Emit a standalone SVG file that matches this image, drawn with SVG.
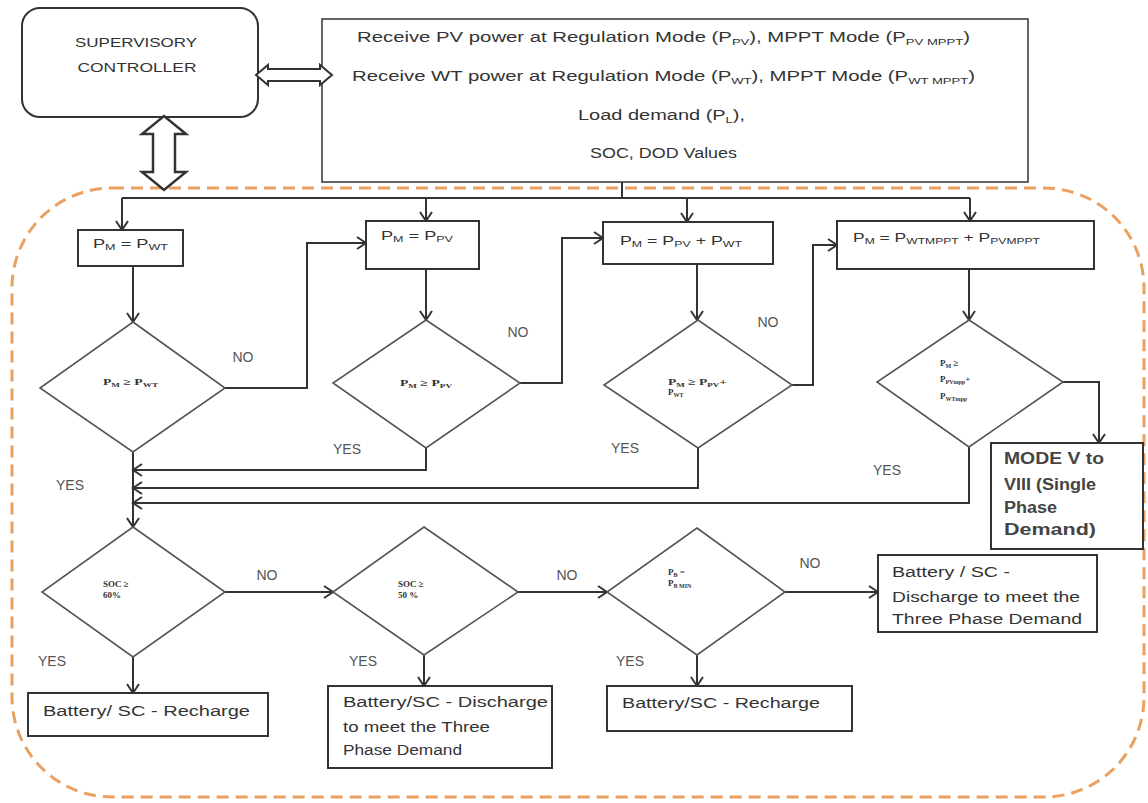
<svg xmlns="http://www.w3.org/2000/svg" width="1148" height="803" viewBox="0 0 1148 803">
<style>
.t{font-family:"Liberation Sans",Arial,sans-serif;fill:#333}
.lbl{font-family:"Liberation Sans",Arial,sans-serif;fill:#555;font-size:14px}
.sm{font-family:"Liberation Serif","Times New Roman",serif;fill:#333;font-size:9px;font-weight:bold}
.box{fill:#fff;stroke:#333;stroke-width:2}
.dia{fill:#fff;stroke:#555;stroke-width:1.6}
.ln{fill:none;stroke:#333;stroke-width:2}
.ar{fill:none;stroke:#333;stroke-width:2;marker-end:url(#ah)}
.sub{font-size:9px}
.md{font-family:"Liberation Sans",Arial,sans-serif;fill:#444;font-size:16px;font-weight:bold}
</style>
<defs>
<marker id="ah" markerUnits="userSpaceOnUse" markerWidth="14" markerHeight="14" refX="11" refY="7" orient="auto">
<path d="M2,1 L11,7 L2,13" fill="none" stroke="#333" stroke-width="2"/>
</marker>
</defs>
<rect x="12" y="188" width="1132" height="609" rx="100" ry="100" fill="none" stroke="#E9A060" stroke-width="3" stroke-dasharray="12 7"/>

<g id="supervisory">
<rect x="22" y="8" width="236" height="109" rx="18" class="box" stroke-width="2.5"/>
<text class="t" x="136" y="47" font-size="13" text-anchor="middle" textLength="122" lengthAdjust="spacingAndGlyphs" fill="#555">SUPERVISORY</text>
<text class="t" x="137" y="72" font-size="13" text-anchor="middle" textLength="119" lengthAdjust="spacingAndGlyphs" fill="#555">CONTROLLER</text>
</g>

<g id="info">
<rect x="322" y="19" width="706" height="163" fill="#fff" stroke="#333" stroke-width="1.5"/>
<text class="t" x="357" y="42" font-size="14" textLength="613" lengthAdjust="spacingAndGlyphs">Receive PV power at Regulation Mode (P<tspan class="sub" dy="3">PV</tspan><tspan dy="-3">), MPPT Mode (P</tspan><tspan class="sub" dy="3">PV MPPT</tspan><tspan dy="-3">)</tspan></text>
<text class="t" x="352" y="81" font-size="14" textLength="623" lengthAdjust="spacingAndGlyphs">Receive WT power at Regulation Mode (P<tspan class="sub" dy="3">WT</tspan><tspan dy="-3">), MPPT Mode (P</tspan><tspan class="sub" dy="3">WT MPPT</tspan><tspan dy="-3">)</tspan></text>
<text class="t" x="578" y="120" font-size="14" textLength="167" lengthAdjust="spacingAndGlyphs">Load demand (P<tspan class="sub" dy="3">L</tspan><tspan dy="-3">),</tspan></text>
<text class="t" x="590" y="158" font-size="14" textLength="147" lengthAdjust="spacingAndGlyphs">SOC, DOD Values</text>
</g>

<g id="arrows-double">
<polygon points="256,75 268,65 268,69 320,69 320,65 332,75 320,85 320,81 268,81 268,85" fill="#fff" stroke="#333" stroke-width="2"/>
<polygon points="164,116 186,134 175,134 175,172 186,172 164,190 142,172 153,172 153,134 142,134" fill="#fff" stroke="#333" stroke-width="2.5"/>
</g>

<g id="connectors">
<path class="ln" d="M622,182 V198 M122,198 H970"/>
<path class="ar" d="M122,198 V230"/>
<path class="ar" d="M426,198 V221"/>
<path class="ar" d="M687,198 V222"/>
<path class="ar" d="M970,198 V221"/>
<path class="ar" d="M133,266 V322"/>
<path class="ar" d="M426,269 V320"/>
<path class="ar" d="M697,264 V320"/>
<path class="ar" d="M969,269 V320"/>
<path class="ar" d="M225,388 H307 V243 H366"/>
<path class="ar" d="M520,383 H562 V238 H603"/>
<path class="ar" d="M792,385 H813 V245 H837"/>
<path class="ar" d="M1063,382 H1099 V443"/>
<path class="ar" d="M133,452 V527"/>
<path class="ar" d="M426,448 V470 H133"/>
<path class="ar" d="M698,448 V488 H133"/>
<path class="ar" d="M969,447 V503 H133"/>
<path class="ar" d="M225,592 H333"/>
<path class="ar" d="M518,592 H607"/>
<path class="ar" d="M785,592 H878"/>
<path class="ar" d="M133,657 V693"/>
<path class="ar" d="M424,655 V686"/>
<path class="ar" d="M697,655 V686"/>
</g>

<g id="box1">
<rect x="78" y="230" width="105" height="36" class="box"/>
<text class="t" x="93" y="248" font-size="13" textLength="75" lengthAdjust="spacingAndGlyphs">P<tspan class="sub" dy="2">M</tspan><tspan dy="-2"> = P</tspan><tspan class="sub" dy="2">WT</tspan></text>
</g>
<g id="box2">
<rect x="366" y="221" width="113" height="48" class="box"/>
<text class="t" x="381" y="240" font-size="13" textLength="72" lengthAdjust="spacingAndGlyphs">P<tspan class="sub" dy="2">M</tspan><tspan dy="-2"> = P</tspan><tspan class="sub" dy="2">PV</tspan></text>
</g>
<g id="box3">
<rect x="603" y="222" width="170" height="42" class="box"/>
<text class="t" x="620" y="245" font-size="13" textLength="122" lengthAdjust="spacingAndGlyphs">P<tspan class="sub" dy="2">M</tspan><tspan dy="-2"> = P</tspan><tspan class="sub" dy="2">PV</tspan><tspan dy="-2"> + P</tspan><tspan class="sub" dy="2">WT</tspan></text>
</g>
<g id="box4">
<rect x="837" y="221" width="257" height="48" class="box"/>
<text class="t" x="853" y="242" font-size="13" textLength="187" lengthAdjust="spacingAndGlyphs">P<tspan class="sub" dy="2">M</tspan><tspan dy="-2"> = P</tspan><tspan class="sub" dy="2">WTMPPT</tspan><tspan dy="-2"> + P</tspan><tspan class="sub" dy="2">PVMPPT</tspan></text>
</g>

<g id="dec1">
<polygon points="133,322 225,388 133,452 40,388" class="dia"/>
<text class="sm" x="103" y="385" textLength="55" lengthAdjust="spacingAndGlyphs">P<tspan font-size="6" dy="2">M</tspan><tspan dy="-2"> ≥ P</tspan><tspan font-size="6" dy="2">WT</tspan></text>
</g>
<g id="dec2">
<polygon points="426,320 520,383 426,448 333,383" class="dia"/>
<text class="sm" x="400" y="386" textLength="52" lengthAdjust="spacingAndGlyphs">P<tspan font-size="6" dy="2">M</tspan><tspan dy="-2"> ≥ P</tspan><tspan font-size="6" dy="2">PV</tspan></text>
</g>
<g id="dec3">
<polygon points="698,320 792,385 698,448 604,385" class="dia"/>
<text class="sm" x="668" y="385" textLength="59" lengthAdjust="spacingAndGlyphs">P<tspan font-size="6" dy="2">M</tspan><tspan dy="-2"> ≥ P</tspan><tspan font-size="6" dy="2">PV</tspan><tspan dy="-2">+</tspan></text>
<text class="sm" x="668" y="395">P<tspan font-size="6" dy="2">WT</tspan></text>
</g>
<g id="dec4">
<polygon points="969,320 1063,382 969,447 877,382" class="dia"/>
<text class="sm" x="940" y="366">P<tspan font-size="6" dy="2">M</tspan><tspan dy="-2"> ≥</tspan></text>
<text class="sm" x="940" y="382">P<tspan font-size="6" dy="2">PVmpp</tspan><tspan dy="-2">+</tspan></text>
<text class="sm" x="940" y="399">P<tspan font-size="6" dy="2">WTmpp</tspan></text>
</g>

<g id="mode">
<rect x="991" y="443" width="152" height="106" class="box"/>
<text class="md" x="1004" y="464" textLength="100" lengthAdjust="spacingAndGlyphs">MODE V to</text>
<text class="md" x="1004" y="490" textLength="92" lengthAdjust="spacingAndGlyphs">VIII (Single</text>
<text class="md" x="1004" y="513" textLength="53" lengthAdjust="spacingAndGlyphs">Phase</text>
<text class="md" x="1004" y="535" textLength="92" lengthAdjust="spacingAndGlyphs">Demand)</text>
</g>

<g id="dec5">
<polygon points="133,527 225,592 133,657 42,592" class="dia"/>
<text class="sm" x="103" y="587">SOC ≥</text>
<text class="sm" x="103" y="598">60%</text>
</g>
<g id="dec6">
<polygon points="424,527 518,592 424,655 333,592" class="dia"/>
<text class="sm" x="398" y="587">SOC ≥</text>
<text class="sm" x="398" y="598">50 %</text>
</g>
<g id="dec7">
<polygon points="697,528 785,592 697,655 607,592" class="dia"/>
<text class="sm" x="668" y="575">P<tspan font-size="6" dy="2">B</tspan><tspan dy="-2"> =</tspan></text>
<text class="sm" x="668" y="586">P<tspan font-size="6" dy="2">B MIN</tspan></text>
</g>

<g id="box5">
<rect x="28" y="693" width="240" height="43" class="box"/>
<text class="t" x="43" y="716" font-size="14" textLength="207" lengthAdjust="spacingAndGlyphs">Battery/ SC - Recharge</text>
</g>
<g id="box6">
<rect x="328" y="686" width="224" height="82" class="box"/>
<text class="t" x="343" y="707" font-size="14" textLength="205" lengthAdjust="spacingAndGlyphs">Battery/SC - Discharge</text>
<text class="t" x="343" y="732" font-size="14" textLength="147" lengthAdjust="spacingAndGlyphs">to meet the Three</text>
<text class="t" x="343" y="755" font-size="14" textLength="119" lengthAdjust="spacingAndGlyphs">Phase Demand</text>
</g>
<g id="box7">
<rect x="607" y="686" width="245" height="45" class="box"/>
<text class="t" x="622" y="708" font-size="14" textLength="198" lengthAdjust="spacingAndGlyphs">Battery/SC - Recharge</text>
</g>
<g id="box8">
<rect x="878" y="555" width="219" height="77" class="box"/>
<text class="t" x="892" y="577" font-size="14" textLength="118" lengthAdjust="spacingAndGlyphs">Battery / SC -</text>
<text class="t" x="892" y="602" font-size="14" textLength="188" lengthAdjust="spacingAndGlyphs">Discharge to meet the</text>
<text class="t" x="892" y="624" font-size="14" textLength="190" lengthAdjust="spacingAndGlyphs">Three Phase Demand</text>
</g>

<g id="labels">
<text class="lbl" x="243" y="362" text-anchor="middle">NO</text>
<text class="lbl" x="518" y="337" text-anchor="middle">NO</text>
<text class="lbl" x="768" y="327" text-anchor="middle">NO</text>
<text class="lbl" x="267" y="580" text-anchor="middle">NO</text>
<text class="lbl" x="567" y="580" text-anchor="middle">NO</text>
<text class="lbl" x="810" y="568" text-anchor="middle">NO</text>
<text class="lbl" x="347" y="454" text-anchor="middle">YES</text>
<text class="lbl" x="625" y="453" text-anchor="middle">YES</text>
<text class="lbl" x="887" y="475" text-anchor="middle">YES</text>
<text class="lbl" x="70" y="490" text-anchor="middle">YES</text>
<text class="lbl" x="52" y="666" text-anchor="middle">YES</text>
<text class="lbl" x="363" y="666" text-anchor="middle">YES</text>
<text class="lbl" x="630" y="666" text-anchor="middle">YES</text>
</g>
</svg>
